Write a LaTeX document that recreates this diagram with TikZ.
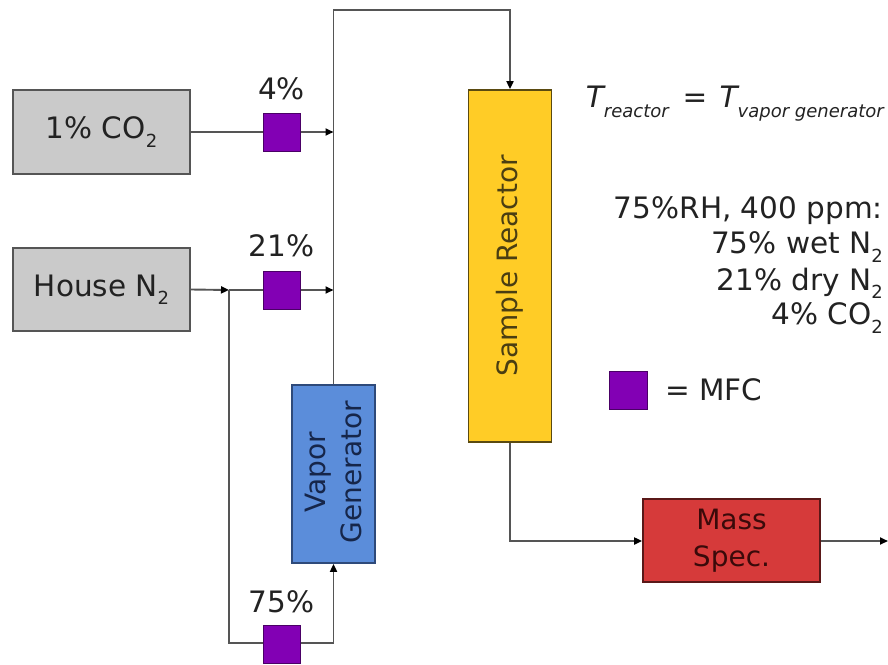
\documentclass[tikz,border=0pt]{standalone}
\usepackage{fontspec}
\setmainfont{DejaVu Sans}
\usetikzlibrary{arrows.meta}
\newcommand\mysub[1]{\raisebox{-0.28em}{\fontsize{18}{18}\selectfont #1}}
\newcommand\eqsub[1]{\raisebox{-0.34em}{\fontsize{18}{18}\selectfont #1}}
\definecolor{linec}{HTML}{555555}
\definecolor{grayfill}{HTML}{CACACA}
\definecolor{grayedge}{HTML}{555555}
\definecolor{mfcfill}{HTML}{8200B4}
\definecolor{mfcedge}{HTML}{4A0066}
\definecolor{vgfill}{HTML}{5B8DDA}
\definecolor{vgedge}{HTML}{2E4A7A}
\definecolor{vgtext}{HTML}{16264A}
\definecolor{rfill}{HTML}{FFCC26}
\definecolor{redge}{HTML}{5A4A10}
\definecolor{rtext}{HTML}{4A3E12}
\definecolor{msfill}{HTML}{D63A3A}
\definecolor{msedge}{HTML}{5A1818}
\definecolor{mstext}{HTML}{3A0A0A}
\definecolor{txt}{HTML}{222222}
\tikzset{
  gasbox/.style={draw=grayedge, fill=grayfill, line width=1.8pt, minimum width=177pt, minimum height=84pt, inner sep=0pt, text=txt},
  mfcbox/.style={draw=mfcedge, fill=mfcfill, line width=1pt, minimum width=37pt, minimum height=38pt, inner sep=0pt},
  vgbox/.style={draw=vgedge, fill=vgfill, line width=1.8pt, minimum width=83pt, minimum height=178pt, inner sep=0pt},
  rbox/.style={draw=redge, fill=rfill, line width=1.8pt, minimum width=83pt, minimum height=352pt, inner sep=0pt},
  msbox/.style={draw=msedge, fill=msfill, line width=1.8pt, minimum width=177pt, minimum height=83pt, inner sep=0pt, text=mstext, align=center},
  pipe/.style={draw=linec, line width=1.9pt},
  flow/.style={pipe, -{Triangle[length=8pt,width=7pt,color=black]}},
  lbl/.style={text=txt, inner sep=0pt},
}
\begin{document}
\begin{tikzpicture}[x=1pt,y=-1pt, font=\fontsize{29.5}{31}\selectfont]
\useasboundingbox (0,0) rectangle (888,664);
% gas sources
\node[gasbox] (co2) at (101.5,132) {1\% CO\mysub{2}};
\node[gasbox, minimum height=83pt] (n2) at (101.5,289.5) {House N\mysub{2}};
% MFCs
\node[mfcbox] (m4) at (281.5,132) {};
\node[mfcbox] (m21) at (281.5,290) {};
\node[mfcbox] (m75) at (281.5,644) {};
\node[lbl] (l4) at (281.5,89) {4\%};
\node[lbl] (l21) at (281.5,246) {21\%};
\node[lbl] (l75) at (281.5,602) {75\%};
% vapor generator
\node[vgbox] (vg) at (333.5,474) {};
\node[rotate=90, align=center, text=vgtext, inner sep=0pt, font=\fontsize{28}{36}\selectfont] (vgt) at (333.5,472) {Vapor\\Generator};
% reactor
\node[rbox] (rx) at (510,266) {};
\node[rotate=90, text=rtext, inner sep=0pt, font=\fontsize{28}{30}\selectfont] (rxt) at (510,266) {Sample Reactor};
% mass spec
\node[msbox] (ms) at (731.5,540.5) {};
\node[align=center, text=mstext, inner sep=0pt, font=\fontsize{28}{37}\selectfont] (mst) at (731.5,540.5) {Mass\\Spec.};
% junction coordinates
\coordinate (jc) at (333.5,132);
\coordinate (jn) at (333.5,290);
\coordinate (js) at (229,290);
\coordinate (jsb) at (229,643);
\coordinate (jvb) at (333.5,643);
\coordinate (ttl) at (333.5,10);
\coordinate (ttr) at (510,10);
\coordinate (rb) at (510,541);
\coordinate (out) at (888,541);
% connectors
\draw[pipe] (co2.east) -- (m4.west);
\draw[flow] (m4.east) -- (jc);
\draw[flow] (n2.east) -- (js);
\draw[pipe] (js) -- (m21.west);
\draw[flow] (m21.east) -- (jn);
\draw[pipe] (js) -- (jsb) -- (m75.west |- jsb);
\draw[flow] (m75.east |- jvb) -- (jvb) -- (vg.south);
\draw[flow] (vg.north) -- (ttl) -- (ttr) -- (rx.north);
\draw[flow] (rx.south) -- (rb) -- (ms.west |- rb);
\draw[flow] (ms.east |- out) -- (out);
% annotations
\node[lbl, anchor=east] (teq) at (884,104) {\itshape T\eqsub{reactor}\hspace{0.15em} = \hspace{0.1em}T\eqsub{vapor generator}};
\node[lbl, anchor=east] (c1) at (883,211) {75\%RH, 400 ppm:};
\node[lbl, anchor=east] (c2) at (883,247) {75\% wet N\mysub{2}};
\node[lbl, anchor=east] (c3) at (883,283) {21\% dry N\mysub{2}};
\node[lbl, anchor=east] (c4) at (883,318) {4\% CO\mysub{2}};
\node[mfcbox, minimum width=38pt] (leg) at (628,390) {};
\node[lbl, anchor=west] (legt) at (665,390) {= MFC};
\end{tikzpicture}
\end{document}
